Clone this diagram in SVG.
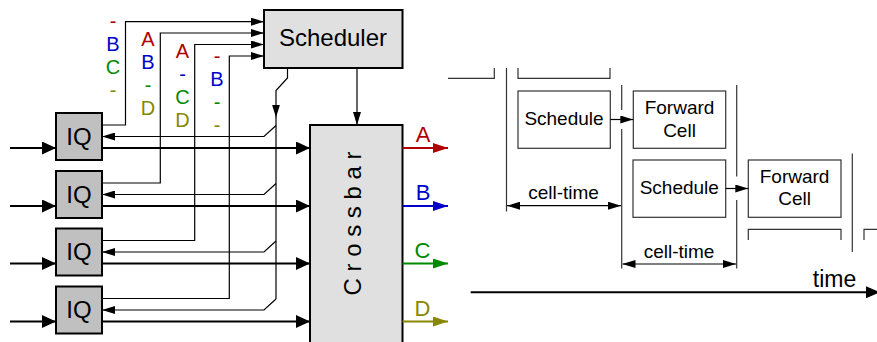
<svg xmlns="http://www.w3.org/2000/svg" width="877" height="342" viewBox="0 0 877 342">
  <style>
    text { font-family: "Liberation Sans", Arial, sans-serif; }
    .box { fill: #e0e0e0; stroke: #000; stroke-width: 2; }
    .iq { fill: #c0c0c0; stroke: #000; stroke-width: 2; }
    .thick { fill: none; stroke: #000; stroke-width: 2; }
    .thin { fill: none; stroke: #000; stroke-width: 1.2; }
    .tbox { fill: #fff; stroke: #333; stroke-width: 1.2; }
    .tline { fill: none; stroke: #333; stroke-width: 1.2; }
    .big { font-size: 24px; text-anchor: middle; }
    .tl { font-size: 19px; text-anchor: middle; }
    .lbl { font-size: 20px; text-anchor: middle; }
    .out { font-size: 22px; text-anchor: middle; }
    .r { fill: #b00000; } .b { fill: #0000cc; } .g { fill: #008800; } .o { fill: #888800; }
  </style>
  <defs>
    <marker id="ahBig" markerUnits="userSpaceOnUse" markerWidth="14" markerHeight="13" refX="14" refY="6.5" orient="auto">
      <path d="M0,0 L14,6.5 L0,13 z" fill="#000"/>
    </marker>
    <marker id="ahSmall" markerUnits="userSpaceOnUse" markerWidth="13" markerHeight="8" refX="13" refY="4" orient="auto-start-reverse">
      <path d="M0,0 L13,4 L0,8 z" fill="#000"/>
    </marker>
    <marker id="ahTime" markerUnits="userSpaceOnUse" markerWidth="14" markerHeight="12" refX="14" refY="6" orient="auto">
      <path d="M0,0 L14,6 L0,12 z" fill="#000"/>
    </marker>
    <marker id="ahA" markerUnits="userSpaceOnUse" markerWidth="15" markerHeight="10" refX="15" refY="5" orient="auto">
      <path d="M0,0 L15,5 L0,10 z" fill="#b00000"/>
    </marker>
    <marker id="ahB" markerUnits="userSpaceOnUse" markerWidth="15" markerHeight="10" refX="15" refY="5" orient="auto">
      <path d="M0,0 L15,5 L0,10 z" fill="#0000cc"/>
    </marker>
    <marker id="ahC" markerUnits="userSpaceOnUse" markerWidth="15" markerHeight="10" refX="15" refY="5" orient="auto">
      <path d="M0,0 L15,5 L0,10 z" fill="#008800"/>
    </marker>
    <marker id="ahD" markerUnits="userSpaceOnUse" markerWidth="15" markerHeight="10" refX="15" refY="5" orient="auto">
      <path d="M0,0 L15,5 L0,10 z" fill="#888800"/>
    </marker>
  </defs>

  <!-- Switch nodes -->
  <g id="scheduler">
    <rect class="box" x="264" y="10" width="138.5" height="58"/>
    <text class="big" x="333" y="45.5">Scheduler</text>
  </g>
  <g id="crossbar">
    <rect class="box" x="310" y="125" width="92.5" height="230"/>
    <text class="big" transform="translate(361,223.5) rotate(-90)">C r o s s b a r</text>
  </g>
  <g id="iq1">
    <rect class="iq" x="56" y="113" width="46" height="47"/>
    <text class="big" x="79" y="144.5">IQ</text>
  </g>
  <g id="iq2">
    <rect class="iq" x="56" y="171" width="46" height="47"/>
    <text class="big" x="79" y="202.5">IQ</text>
  </g>
  <g id="iq3">
    <rect class="iq" x="56" y="228.5" width="46" height="47"/>
    <text class="big" x="79" y="260">IQ</text>
  </g>
  <g id="iq4">
    <rect class="iq" x="56" y="286.5" width="46" height="47"/>
    <text class="big" x="79" y="318">IQ</text>
  </g>

  <!-- Request labels per input queue -->
  <g id="requests">
    <text class="lbl r" x="113" y="28">-</text>
    <text class="lbl b" x="113" y="51">B</text>
    <text class="lbl g" x="113" y="74">C</text>
    <text class="lbl o" x="113" y="97">-</text>

    <text class="lbl r" x="148" y="46">A</text>
    <text class="lbl b" x="148" y="69">B</text>
    <text class="lbl g" x="148" y="92">-</text>
    <text class="lbl o" x="148" y="115">D</text>

    <text class="lbl r" x="182.5" y="57.5">A</text>
    <text class="lbl b" x="182.5" y="80.5">-</text>
    <text class="lbl g" x="182.5" y="103.5">C</text>
    <text class="lbl o" x="182.5" y="126.5">D</text>

    <text class="lbl r" x="217" y="63">-</text>
    <text class="lbl b" x="217" y="86">B</text>
    <text class="lbl g" x="217" y="109">-</text>
    <text class="lbl o" x="217" y="132">-</text>
  </g>

  <!-- Output port labels -->
  <g id="outputs">
    <text class="out r" x="423" y="141.5">A</text>
    <text class="out b" x="423" y="200">B</text>
    <text class="out g" x="422.5" y="258">C</text>
    <text class="out o" x="422.5" y="315.5">D</text>
  </g>

  <!-- Connectors -->
  <g id="connectors">
    <!-- inputs into queues -->
    <line class="thick" x1="10" y1="148" x2="56" y2="148" marker-end="url(#ahBig)"/>
    <line class="thick" x1="10" y1="206" x2="56" y2="206" marker-end="url(#ahBig)"/>
    <line class="thick" x1="10" y1="263.5" x2="56" y2="263.5" marker-end="url(#ahBig)"/>
    <line class="thick" x1="10" y1="321.5" x2="56" y2="321.5" marker-end="url(#ahBig)"/>
    <!-- queues into crossbar -->
    <line class="thick" x1="102" y1="148" x2="310" y2="148" marker-end="url(#ahBig)"/>
    <line class="thick" x1="102" y1="206" x2="310" y2="206" marker-end="url(#ahBig)"/>
    <line class="thick" x1="102" y1="263.5" x2="310" y2="263.5" marker-end="url(#ahBig)"/>
    <line class="thick" x1="102" y1="321.5" x2="310" y2="321.5" marker-end="url(#ahBig)"/>
    <!-- requests to scheduler -->
    <path class="thin" d="M102,125 H125.5 V21.7 H264" marker-end="url(#ahSmall)"/>
    <path class="thin" d="M102,183 H160.3 V33 H264" marker-end="url(#ahSmall)"/>
    <path class="thin" d="M102,240.5 H194.7 V44.5 H264" marker-end="url(#ahSmall)"/>
    <path class="thin" d="M102,298.5 H229.3 V56 H264" marker-end="url(#ahSmall)"/>
    <!-- grants back to queues -->
    <path class="thin" d="M287.5,68 V78 L276,90.5 V117.5" marker-end="url(#ahSmall)"/>
    <line class="thin" x1="276" y1="117" x2="276" y2="299"/>
    <path class="thin" d="M276,125.5 L264,136.5 H102" marker-end="url(#ahSmall)"/>
    <path class="thin" d="M276,183.5 L264,194.5 H102" marker-end="url(#ahSmall)"/>
    <path class="thin" d="M276,241 L264,252 H102" marker-end="url(#ahSmall)"/>
    <path class="thin" d="M276,299 L264,310 H102" marker-end="url(#ahSmall)"/>
    <!-- scheduler configures crossbar -->
    <line class="thin" x1="357" y1="68" x2="357" y2="125" marker-end="url(#ahSmall)"/>
    <!-- crossbar outputs -->
    <line x1="402.5" y1="148" x2="448" y2="148" stroke="#b00000" stroke-width="2" marker-end="url(#ahA)"/>
    <line x1="402.5" y1="206" x2="448" y2="206" stroke="#0000cc" stroke-width="2" marker-end="url(#ahB)"/>
    <line x1="402.5" y1="263.5" x2="448" y2="263.5" stroke="#008800" stroke-width="2" marker-end="url(#ahC)"/>
    <line x1="402.5" y1="321.5" x2="448" y2="321.5" stroke="#888800" stroke-width="2" marker-end="url(#ahD)"/>
  </g>

  <!-- Pipelined timing -->
  <g id="timing-frame">
    <path class="tline" d="M448,78.3 H494.3 V68"/>
    <line class="tline" x1="506.5" y1="68" x2="506.5" y2="211.5"/>
    <path class="tline" d="M518,68 V78.3 H610 V68"/>
    <line class="tline" x1="621.7" y1="85" x2="621.7" y2="110"/>
    <line class="tline" x1="621.7" y1="129" x2="621.7" y2="268.5"/>
    <line class="tline" x1="736.7" y1="85" x2="736.7" y2="176.5"/>
    <line class="tline" x1="736.7" y1="200" x2="736.7" y2="268.5"/>
    <path class="tline" d="M748.3,240 V229.3 H841 V240"/>
    <line class="tline" x1="852.3" y1="153.5" x2="852.3" y2="252"/>
    <path class="tline" d="M864,240 V229.3 H877"/>
  </g>
  <g id="schedule1">
    <rect class="tbox" x="518" y="91" width="92.3" height="57.3"/>
    <text class="tl" x="564" y="125">Schedule</text>
  </g>
  <g id="forward1">
    <rect class="tbox" x="633.3" y="91" width="92.4" height="57.3"/>
    <text class="tl" x="679.5" y="114.3">Forward</text>
    <text class="tl" x="679.5" y="136.7">Cell</text>
  </g>
  <g id="schedule2">
    <rect class="tbox" x="633" y="160" width="92.7" height="57.3"/>
    <text class="tl" x="679.3" y="194.3">Schedule</text>
  </g>
  <g id="forward2">
    <rect class="tbox" x="748.3" y="160" width="92.7" height="57.3"/>
    <text class="tl" x="794.6" y="182.7">Forward</text>
    <text class="tl" x="794.6" y="205">Cell</text>
  </g>
  <g id="timing-connectors">
    <line class="thin" x1="610.3" y1="119.5" x2="633.3" y2="119.5" marker-end="url(#ahSmall)"/>
    <line class="thin" x1="725.7" y1="188.5" x2="748.3" y2="188.5" marker-end="url(#ahSmall)"/>
    <line class="thin" x1="507" y1="205.7" x2="621" y2="205.7" marker-start="url(#ahSmall)" marker-end="url(#ahSmall)"/>
    <line class="thin" x1="622.5" y1="264" x2="736" y2="264" marker-start="url(#ahSmall)" marker-end="url(#ahSmall)"/>
    <line class="thick" x1="470.7" y1="292.3" x2="880" y2="292.3" marker-end="url(#ahTime)"/>
  </g>
  <g id="timing-labels">
    <text class="tl" x="563.5" y="199.3">cell-time</text>
    <text class="tl" x="679" y="257.5">cell-time</text>
    <text x="834.5" y="286.7" font-size="23" text-anchor="middle">time</text>
  </g>
</svg>
